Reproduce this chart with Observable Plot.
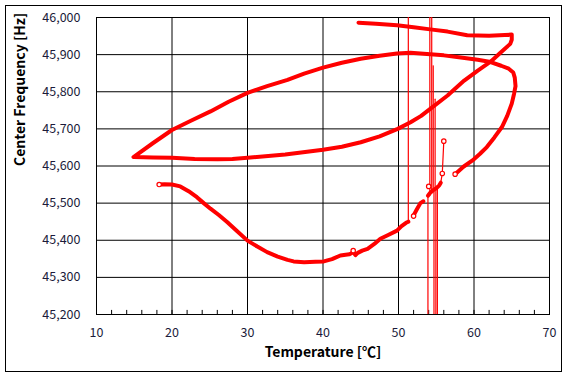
<!DOCTYPE html>
<html>
<head>
<meta charset="utf-8">
<script src="https://cdn.jsdelivr.net/npm/d3@7"></script>
<script src="https://cdn.jsdelivr.net/npm/@observablehq/plot@0.6"></script>
<style>
  html, body { margin: 0; padding: 0; background: #fff; }
  #wrap { position: relative; width: 567px; height: 379px; }
  #border { position: absolute; left: 5px; top: 5px; width: 555px; height: 365px; border: 1px solid #000; pointer-events: none; }
</style>
</head>
<body>
<div id="wrap"><div id="border"></div></div>
<script>
// ---- tick values ----
const xTicks = [10, 20, 30, 40, 50, 60, 70];
const xMinorTicks = d3.range(10, 71, 2);
const yTicks = [45200, 45300, 45400, 45500, 45600, 45700, 45800, 45900, 46000];

// ---- lower (heating) curve ----
const lowerT = [18.3, 19.0, 20.0, 21.1, 22.2, 23.3, 24.2, 25.1, 26.2, 27.3, 28.6, 30.0, 31.3, 32.6, 34.0, 35.3, 36.1, 37.5, 39.0, 40.1, 41.2, 42.3, 43.0, 43.5, 44.0, 44.3, 44.6, 45.2, 45.9, 46.8, 47.6, 48.7, 49.8, 50.4, 51.0, 51.3];
const lowerF = [45550, 45551, 45550, 45545, 45532, 45516, 45500, 45485, 45468, 45449, 45425, 45399, 45383, 45368, 45356, 45347, 45343, 45341, 45342, 45343, 45349, 45359, 45361, 45362, 45368, 45360, 45366, 45372, 45377, 45390, 45404, 45415, 45426, 45438, 45447, 45450];

// ---- noisy clusters near 52-56 C ----
const glitch1T = [52.0, 52.4, 52.9, 53.3];
const glitch1F = [45467, 45482, 45500, 45505];
const glitch2T = [53.9, 54.2, 54.6, 55.0, 55.4, 55.6];
const glitch2F = [45520, 45528, 45535, 45540, 45548, 45555];

// ---- thin tail ----
const tailT = [55.6, 55.8, 56.0];
const tailF = [45555, 45580, 45667];

// ---- main loop ----
const loopT = [57.5, 58.6, 59.8, 60.8, 61.7, 62.7, 63.7, 64.4, 65.0, 65.3, 65.5, 65.4, 65.2, 64.6, 63.6, 62.2, 60.5, 58.0, 56.0, 54.2, 51.6, 49.8, 47.5, 45.0, 42.5, 40.0, 37.5, 35.3, 32.6, 30.0, 27.5, 25.1, 22.5, 20.0, 17.5, 14.9, 17.5, 20.0, 23.0, 26.0, 28.0, 30.0, 35.0, 40.0, 42.5, 45.0, 47.5, 49.9, 51.6, 53.0, 54.2, 56.5, 58.7, 60.5, 62.2, 63.5, 64.8, 65.0, 65.0, 62.0, 59.1, 56.5, 54.2, 52.0, 49.8, 47.0, 44.7];
const loopF = [45578, 45598, 45615, 45633, 45651, 45677, 45705, 45735, 45768, 45794, 45815, 45838, 45852, 45862, 45870, 45880, 45886, 45893, 45898, 45901, 45905, 45903, 45897, 45889, 45878, 45865, 45849, 45832, 45815, 45797, 45773, 45747, 45722, 45697, 45662, 45624, 45623, 45622, 45619, 45618, 45619, 45622, 45631, 45644, 45652, 45664, 45680, 45700, 45718, 45735, 45754, 45790, 45830, 45857, 45881, 45905, 45929, 45940, 45954, 45951, 45952, 45962, 45968, 45974, 45979, 45983, 45986];

// ---- spikes (off-scale readings) ----
const spikeT    = [51.3, 54.15, 54.4, 54.6, 54.85, 53.9, 54.7, 54.95, 55.15];
const spikeFrom = [45450, 45522, 45528, 45533, 45538, 45520, 45535, 45540, 45545];
const spikeTo   = [46100, 46100, 46100, 45870, 45780, 45100, 45100, 45100, 45100];

// ---- hollow markers visible on sparse points ----
const markT = [18.3, 55.8, 56.0, 57.5, 52.0, 44.0, 54.0];
const markF = [45550, 45580, 45667, 45578, 45465, 45372, 45545];

const zip = (ts, fs, seg) => ts.map((t, i) => ({t, f: fs[i], seg}));
const thick = [
  ...zip(lowerT, lowerF, "lower"),
  ...zip(glitch1T, glitch1F, "g1"),
  ...zip(glitch2T, glitch2F, "g2"),
  ...zip(loopT, loopF, "loop")
];
const thin = [
  ...zip(tailT, tailF, "tail"),
  ...spikeT.flatMap((t, i) => [{t, f: spikeFrom[i], seg: "s" + i}, {t, f: spikeTo[i], seg: "s" + i}])
];
const marks = zip(markT, markF, "m");
const minor = xMinorTicks.map(t => ({t}));

const font = "'Noto Sans CJK KR', 'Noto Sans', sans-serif";

const chart = Plot.plot({
  width: 567,
  height: 379,
  marginLeft: 96,
  marginRight: 18,
  marginTop: 17,
  marginBottom: 65,
  style: {fontFamily: font, fontSize: "12.5px", color: "#000", background: "transparent"},
  x: {domain: [10, 70]},
  y: {domain: [45200, 46000]},
  marks: [
    Plot.gridX(xTicks, {stroke: "#000", strokeOpacity: 1, strokeWidth: 1}),
    Plot.gridY(yTicks, {stroke: "#000", strokeOpacity: 1, strokeWidth: 1}),
    Plot.ruleX(minor, {x: "t", y1: 45200, y2: 45211, stroke: "#000", strokeWidth: 1}),
    Plot.frame({stroke: "#000", strokeWidth: 1}),
    Plot.axisX(xTicks, {tickSize: 0, tickPadding: 14, tickFormat: d => String(d), label: null, fill: "#1b1b3a"}),
    Plot.axisY(yTicks, {tickSize: 0, tickPadding: 16, tickFormat: d3.format(","), label: null, fill: "#1b1b3a"}),
    Plot.line(thin, {x: "t", y: "f", z: "seg", stroke: "#ff0000", strokeWidth: 1.2, clip: true}),
    Plot.line(thick, {x: "t", y: "f", z: "seg", stroke: "#ff0000", strokeWidth: 4, strokeLinejoin: "round", strokeLinecap: "round", clip: true}),
    Plot.dot(marks, {x: "t", y: "f", r: 2.2, stroke: "#ff0000", fill: "#fff", strokeWidth: 1.2}),
    Plot.text(["Temperature [℃]"], {frameAnchor: "bottom", dy: 42, fontSize: 14, fontWeight: "bold", fill: "#000"}),
    Plot.text(["Center Frequency [Hz]"], {frameAnchor: "left", dx: -76, rotate: -90, fontSize: 14, fontWeight: "bold", fill: "#000"})
  ]
});
document.getElementById("wrap").prepend(chart);
</script>
</body>
</html>
